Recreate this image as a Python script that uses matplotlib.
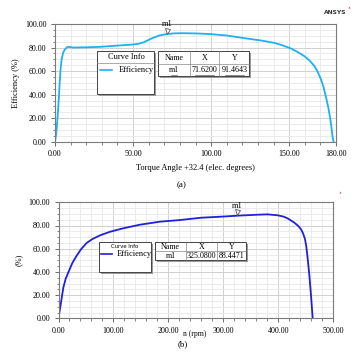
import matplotlib
matplotlib.use("Agg")
import matplotlib.pyplot as plt
from matplotlib.ticker import MultipleLocator, FixedLocator
from matplotlib.patches import Rectangle
import matplotlib.transforms as mtransforms

# ---------------- data ----------------
angle = [0, 0.6, 1.1, 1.6, 2.0, 2.5, 3.0, 3.6, 4.3, 5.3, 6.4, 7.5, 8.5, 10, 11.5, 20, 28.8,
         39.5, 50.1, 53.5, 56.5, 60, 62.9, 67, 71.62, 76, 80.6, 90, 99.8, 110, 123.3, 132,
         140.4, 145, 151, 155, 159.6, 163, 166, 168, 170.2, 172, 173.4, 175, 176, 177,
         177.7, 178.4]
eff_a = [0, 5, 11.5, 20, 28, 38, 50, 62, 70.5, 75.8, 78.5, 80.0, 80.6, 80.4, 80.0, 80.2,
         80.6, 81.6, 82.6, 83.2, 84.3, 86.5, 88.3, 90.3, 91.46, 92.0, 92.2, 92.0, 91.4,
         90.2, 87.6, 86.0, 84.0, 82.2, 79.3, 76.5, 72.8, 69.0, 64.6, 60.2, 53.5, 46.5,
         39.0, 29.5, 22.0, 13.0, 5.0, 0]

speed = [0, 4.5, 8.8, 13, 17.8, 25, 33.1, 41, 51.3, 62, 75.5, 93.7, 117.9, 148.3, 184.7,
         221, 259.3, 295.7, 325.08, 362.4, 380.6, 398.8, 410, 417, 429, 436, 441.2, 445,
         448.5, 451, 453.4, 456.4, 459.4, 462.5]
eff_b = [0, 13.5, 26.5, 34, 39.5, 47.5, 54.0, 59.5, 65.0, 68.4, 71.5, 74.6, 77.6, 80.7,
         83.3, 84.7, 86.7, 87.6, 88.45, 89.3, 89.6, 88.8, 87.6, 86.1, 82.5, 79.7, 76.8,
         73.2, 68.3, 61.5, 51.5, 37.2, 20.0, 0]

mark_a = (71.62, 91.4643)
mark_b = (325.08, 88.4471)
xticks_a = [0, 50, 100, 150, 180]
xticks_b = [0, 100, 200, 300, 400, 500]
yticks = [0, 20, 40, 60, 80, 100]

W, H = 362, 358
fig = plt.figure(figsize=(W / 100, H / 100), dpi=100)
fig.patch.set_facecolor("white")
serif = "Liberation Serif"
FS = 5.8


def rect(l, r, t, b):
    return [l / W, 1 - b / H, (r - l) / W, (b - t) / H]


def style_axes(ax, xticks, xminor, xlim):
    ax.set_xlim(*xlim)
    ax.set_ylim(0, 100)
    ax.xaxis.set_major_locator(FixedLocator(xticks))
    ax.xaxis.set_minor_locator(MultipleLocator(xminor))
    ax.yaxis.set_major_locator(FixedLocator(yticks))
    ax.yaxis.set_minor_locator(MultipleLocator(5))
    ax.set_xticklabels([f"{v:.2f}" for v in xticks], fontsize=FS, family=serif)
    ax.set_yticklabels([f"{v:.2f}" for v in yticks], fontsize=FS, family=serif)
    ax.grid(which="minor", color="#e8e8e8", lw=0.6)
    ax.grid(which="major", color="#d0d0d0", lw=0.7)
    ax.set_axisbelow(True)
    for s in ax.spines.values():
        s.set_color("#7a7a7a")
        s.set_linewidth(0.8)
    ax.tick_params(which="major", direction="out", length=3, width=0.6, color="#555555", pad=3)
    ax.tick_params(which="minor", direction="out", length=1.8, width=0.5, color="#555555")


# ---- chart (a) ----
ax1 = fig.add_axes(rect(55, 336, 24, 141.7))
style_axes(ax1, xticks_a, 10, (0, 180))
ax1.plot(angle, eff_a, color="#1cb2f0", lw=1.3, solid_joinstyle="round")
ax1.set_xlabel("Torque Angle +32.4 (elec. degrees)", fontsize=6.0, family=serif, labelpad=4)
ax1.set_ylabel("Efficiency (%)", fontsize=6.0, family=serif, labelpad=4)
off = mtransforms.offset_copy(ax1.transData, fig=fig, x=0, y=3.5, units="dots")
ax1.plot([mark_a[0]], [mark_a[1]], marker="v", ms=3.6, mfc="white", mec="#555555", mew=0.6,
         transform=off, clip_on=False)
ax1.annotate("m1", xy=mark_a, xytext=(0, 6), textcoords="offset pixels", ha="center",
             va="bottom", fontsize=6, family=serif, annotation_clip=False)

# ---- chart (b) ----
ax2 = fig.add_axes(rect(58.5, 333.3, 202.3, 318.3))
style_axes(ax2, xticks_b, 20, (0, 500))
ax2.plot(speed, eff_b, color="#2020d8", lw=1.3, solid_joinstyle="round")
ax2.set_ylabel("(%)", fontsize=6.0, family=serif, labelpad=4)
off2 = mtransforms.offset_copy(ax2.transData, fig=fig, x=0, y=3.5, units="dots")
ax2.plot([mark_b[0]], [mark_b[1]], marker="v", ms=3.6, mfc="white", mec="#555555", mew=0.6,
         transform=off2, clip_on=False)
ax2.annotate("m1", xy=mark_b, xytext=(0, 6), textcoords="offset pixels", ha="center",
             va="bottom", fontsize=6, family=serif, annotation_clip=False)

# ---- overlay in pixel coordinates ----
ov = fig.add_axes([0, 0, 1, 1], zorder=10)
ov.set_xlim(0, W)
ov.set_ylim(H, 0)
ov.axis("off")
ov.patch.set_alpha(0)


def box(l, t, r, b):
    ov.add_patch(Rectangle((l + 2, t + 2), r - l, b - t, fc="#9a9a9a", ec="none"))
    ov.add_patch(Rectangle((l, t), r - l, b - t, fc="white", ec="#444444", lw=0.7))


def table(l, t, r, b, cols, rowsep, header, values, underline):
    box(l, t, r, b)
    for c in cols:
        ov.plot([c, c], [t, b], color="#888888", lw=0.5)
    ov.plot([l, r], [rowsep, rowsep], color="#888888", lw=0.5)
    edges = [l] + cols + [r]
    for i in range(3):
        cx = (edges[i] + edges[i + 1]) / 2
        ov.text(cx, (t + rowsep) / 2 + 0.5, header[i], ha="center", va="center",
                fontsize=FS, family=serif)
        ov.text(cx, (rowsep + b) / 2 + 0.5, values[i], ha="center", va="center",
                fontsize=FS, family=serif)
        if underline:
            tw = len(values[i]) * 2.7
            ov.plot([cx - tw / 2, cx + tw / 2], [b - 1.5, b - 1.5], color="#333333", lw=0.4)


# chart (a) legend
box(97.3, 51, 154.3, 94.3)
ov.plot([97.3, 154.3], [62.7, 62.7], color="#888888", lw=0.5)
ov.text(126, 57.3, "Curve Info", ha="center", va="center", fontsize=6, family=serif)
ov.plot([100, 111.7], [70, 70], color="#1cb2f0", lw=1.2)
ov.text(118.5, 70, "Efficiency", ha="left", va="center", fontsize=6, family=serif)
table(158.3, 51, 249.3, 76, [190, 219.3], 64, ["Name", "X", "Y"],
      ["m1", "71.6200", "91.4643"], True)

# chart (b) legend
box(99, 242.3, 151, 272.3)
ov.text(125, 246.5, "Curve Info", ha="center", va="center", fontsize=3.8, family="DejaVu Sans")
ov.plot([100.5, 111.5], [254, 254], color="#2020d8", lw=1.2)
ov.text(116.5, 253.5, "Efficiency", ha="left", va="center", fontsize=6.0, family=serif)
table(155, 242, 246, 260, [186, 217], 251, ["Name", "X", "Y"],
      ["m1", "325.0800", "88.4471"], False)

# captions / misc text
ov.text(182, 185, "(a)", ha="center", va="center", fontsize=6.5, family=serif)
ov.text(183, 344, "(b)", ha="center", va="center", fontsize=6.5, family=serif)
ov.text(195, 333.5, "n (rpm)", ha="center", va="center", fontsize=5.5, family=serif)
ov.text(335.5, 13, "ANSYS", ha="center", va="center", fontsize=4.3, family="DejaVu Sans",
        weight="bold", color="#333333")
ov.plot([349], [7], marker="^", ms=1.5, color="#c06060", mew=0)
ov.plot([339.5], [192], marker="^", ms=1.5, color="#c06060", mew=0)

fig.savefig("out.png", dpi=100)
